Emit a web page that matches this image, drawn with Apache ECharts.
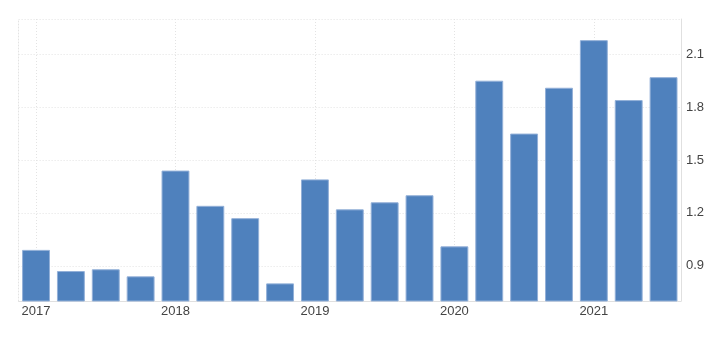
<!DOCTYPE html>
<html><head><meta charset="utf-8">
<script src="https://cdn.jsdelivr.net/npm/echarts@6/dist/echarts.min.js"></script>
<style>html,body{margin:0;padding:0;background:#fff}#c{width:728px;height:339px}</style>
</head><body><div id="c"></div>
<script>
const categories = ['2017 Q1','2017 Q2','2017 Q3','2017 Q4','2018 Q1','2018 Q2','2018 Q3','2018 Q4','2019 Q1','2019 Q2','2019 Q3','2019 Q4','2020 Q1','2020 Q2','2020 Q3','2020 Q4','2021 Q1','2021 Q2','2021 Q3'];
const values = [0.99,0.87,0.88,0.84,1.44,1.24,1.17,0.80,1.39,1.22,1.26,1.30,1.01,1.95,1.65,1.91,2.18,1.84,1.97];
const yTicks = [0.9,1.2,1.5,1.8,2.1];
const yMin = 0.7, yMax = 2.3;

const chart = echarts.init(document.getElementById('c'), null, {renderer:'canvas'});
const gridLine = {color:'#e3e3e3', type:[1,2], width:1};
chart.setOption({
  animation:false,
  grid:{left:18.6, right:47, top:19, bottom:38, containLabel:false},
  xAxis:{
    type:'category', data:categories, boundaryGap:true,
    axisLine:{show:true, lineStyle:{color:'#e0e0e0'}},
    axisTick:{show:false, alignWithLabel:true},
    axisLabel:{
      interval:(i)=>i%4===0, margin:4, color:'#444', fontSize:13, fontFamily:'Liberation Sans, Arial, sans-serif',
      formatter:(v)=>v.slice(0,4)
    },
    splitLine:{show:true, alignWithLabel:true, interval:(i)=>i%4===0, lineStyle:gridLine}
  },
  yAxis:[{
    type:'value', position:'right', min:yMin, max:yMax,
    axisLine:{show:true, lineStyle:{color:'#e0e0e0'}},
    axisTick:{show:false, customValues:yTicks.concat([yMax])},
    axisLabel:{customValues:yTicks, margin:5, color:'#444', fontSize:13, fontFamily:'Liberation Sans, Arial, sans-serif', formatter:(v)=>v.toFixed(1)},
    splitLine:{show:true, lineStyle:gridLine}
  },{
    type:'value', position:'left', min:yMin, max:yMax,
    axisLine:{show:true, lineStyle:gridLine},
    axisTick:{show:false}, axisLabel:{show:false}, splitLine:{show:false}
  }],
  series:[{
    type:'bar', data:values, yAxisIndex:0, barCategoryGap:'20%',
    itemStyle:{color:'#4f81bd', borderColor:'#93b0d8', borderWidth:1}
  }]
});
</script></body></html>
